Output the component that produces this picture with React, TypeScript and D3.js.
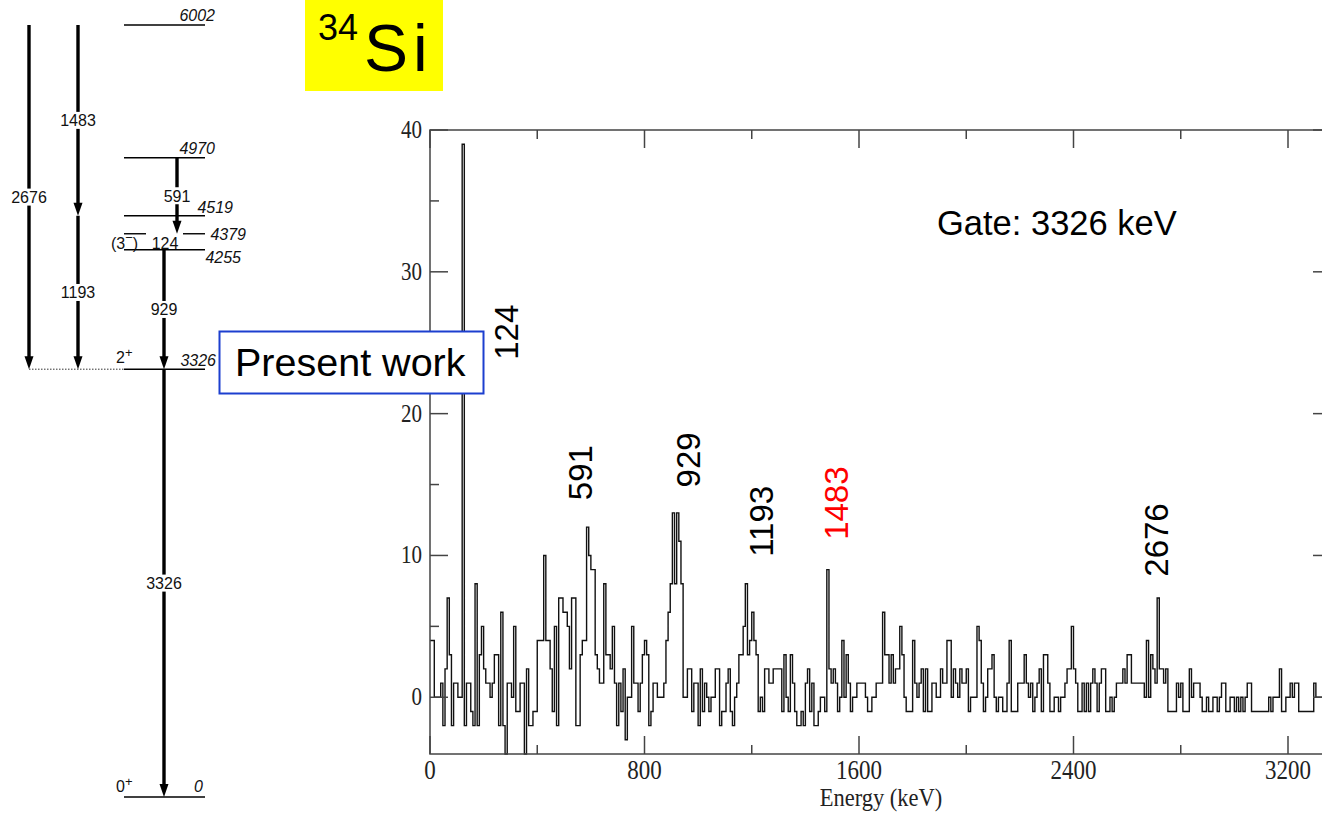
import React from 'react';
import * as d3 from 'd3';

// gated spectrum, 8 keV per bin, background subtracted (so it dips below 0)
const BIN_KEV = 8;

const counts0to832 = [
  4, 4, 0, 0, 0, 1, -2, 2, 7, 3,
  -2, 1, 1, 0, 0, 39, -2, 1, 1, -1,
  -2, 8, -2, 3, 5, 2, 1, 1, 0, 1,
  3, 3, -2, 6, -2, -4, 1, 1, 0, 5,
  -1, -1, 1, 1, -4, 2, -2, -2, -1, -1,
  4, 4, 4, 10, 4, 4, 2, -1, 5, -2,
  7, 7, 6, 6, 5, 2, 7, 7, -2, -2,
  3, 4, 4, 12, 10, 9, 9, 3, 2, 1,
  1, 8, 3, 3, 2, 5, 1, -2, 1, -1,
  2, -3, 0, 0, 5, 1, 1, -1, 1, 3,
  4, 3, -2, -1,
];
const counts832to1664 = [
  1, 1, 0, 0, 0, 1,
  4, 6, 8, 13, 8, 13, 11, 8, 0, 0,
  2, 2, -1, 1, 1, -2, 2, -1, 1, 0,
  -1, 0, 0, 2, 2, -2, -1, -1, 1, 2,
  -1, -2, 0, 1, 3, 3, 5, 8, 3, 4,
  6, 4, 3, -1, 0, -1, 2, 2, 1, 1,
  2, 2, 2, 2, -1, 3, 0, -1, 3, 1,
  -1, -2, -2, -1, -2, 1, 2, -1, 1, -2,
  -2, -1, 0, 0, -1, 9, 2, 1, 2, 1,
  -1, 0, 4, 0, 3, 1, -1, 0, 0, 1,
  1, 1, 1, 0, -1, -1, 0, 0,
];
const counts1664to2496 = [
  1, 1,
  1, 6, 3, 3, 1, 3, 1, 2, 2, 5,
  3, 0, -1, -1, -1, 4, 1, 0, 1, 2,
  -1, 2, -1, -1, 1, 1, 0, 0, 2, 1,
  1, 4, 4, 0, 2, 1, 0, 2, 1, 1,
  2, -1, 0, 0, 0, 5, 4, 1, -1, 0,
  2, 2, 3, 0, -1, 0, 0, -1, -1, 1,
  4, -1, -1, -1, 1, 1, 1, 3, 1, 0,
  1, -1, 0, 1, 2, -1, 3, 3, 1, -1,
  -1, 0, 0, -1, 0, 0, 1, 2, 2, 5,
  2, 1, -1, -1, 1, -1, 1, -1, 1, 2,
  1, -1,
];
const counts2496to3328 = [
  1, 2, 2, -1, -1, 0, -1, 0,
  1, 1, 1, 2, 1, 3, 3, 1, 1, 1,
  1, 1, 1, 0, 4, 0, 3, 2, 1, 7,
  2, 2, 1, 2, -1, -1, -1, -1, 1, 0,
  1, -1, -1, -1, 2, 0, 1, 1, 1, 0,
  -1, -1, 0, -1, -1, 0, 0, -1, 0, 1,
  1, -1, -1, 0, 0, -1, 0, -1, 0, -1,
  0, 1, 1, -1, -1, -1, -1, -1, -1, -1,
  -1, 0, -1, 0, 0, 0, 2, -1, -1, 0,
  0, 1, 0, 1, 1, -1, -1, -1, -1, -1,
  -1, -1, 1, 0, 0, 0,
];

const xTickValues = [0, 800, 1600, 2400, 3200];
const yTickValues = [0, 10, 20, 30, 40];

const peakLabels = ['124', '591', '929', '1193', '1483', '2676'];
const peakColors = ['#000', '#000', '#000', '#000', '#ff0000', '#000'];
// label anchor: keV of the baseline, counts where the text starts
const peakLabelKeV = [328, 604, 1007, 1280, 1560, 2754];
const peakLabelCounts = [23.8, 13.9, 14.8, 9.9, 11.1, 8.5];

// 34Si level scheme (keV)
const levelEnergies = [6002, 4970, 4519, 4379, 4255, 3326, 0];
const gammaLabels = ['2676', '1483', '1193', '591', '124', '929', '3326'];
const gammaFrom = [6002, 6002, 4519, 4970, 4379, 4255, 3326];
const gammaTo = [3326, 4519, 3326, 4379, 4255, 3326, 0];

const SANS = '"Liberation Sans", Arial, Helvetica, sans-serif';
const SERIF = '"Liberation Serif", "Times New Roman", serif';

function LevelScheme() {
  const ly = d3.scaleLinear().domain([0, 6002]).range([797, 25]);
  const x0 = 124, x1 = 205;
  const colOf: Record<string, number> = { '2676': 29, '1483': 78, '1193': 78, '591': 177, '124': 165, '929': 164, '3326': 164 };
  // energy label placement: right edge, baseline offset from the level line
  const eLab: Record<number, [number, number]> = {
    6002: [215, -4], 4970: [215, -4], 4519: [233, -3], 4379: [246, 6], 4255: [241, 13], 3326: [216, -3], 0: [203, -5],
  };
  const fs = 16;
  return (
    <g fontFamily={SANS} fontSize={fs} fill="#111">
      {levelEnergies.map(e => e === 4379 ? (
        <g key={e}>
          <line x1={x0} x2={146} y1={ly(e)} y2={ly(e)} stroke="#000" strokeWidth={1.4} />
          <line x1={183} x2={x1} y1={ly(e)} y2={ly(e)} stroke="#000" strokeWidth={1.4} />
        </g>
      ) : (
        <line key={e} x1={x0} x2={x1} y1={ly(e)} y2={ly(e)} stroke="#000" strokeWidth={1.4} />
      ))}
      {levelEnergies.map(e => (
        <text key={'l' + e} x={eLab[e][0]} y={ly(e) + eLab[e][1]} textAnchor="end" fontStyle="italic">{e}</text>
      ))}
      <line x1={29} x2={x0} y1={ly(3326)} y2={ly(3326)} stroke="#333" strokeWidth={1} strokeDasharray="1.5 1.5" />
      {gammaLabels.map((g, i) => {
        const cx = colOf[g];
        const ya = ly(gammaFrom[i]);
        const yb = ly(gammaTo[i]);
        const ym = (ya + yb) / 2;
        const w = g.length * 9 + 2;
        if (g === '124') {
          return <text key={g} x={cx} y={ym + 7} textAnchor="middle">{g}</text>;
        }
        return (
          <g key={g}>
            <line x1={cx} x2={cx} y1={ya} y2={yb - 11} stroke="#000" strokeWidth={3.4} />
            <path d={`M${cx - 4.5},${yb - 13} L${cx + 4.5},${yb - 13} L${cx},${yb} Z`} fill="#000" />
            <rect x={cx - w / 2} y={ym - 8.5} width={w} height={17} fill="#fff" />
            <text x={cx} y={ym + 6} textAnchor="middle">{g}</text>
          </g>
        );
      })}
      <text x={116} y={ly(3326) - 6}>2<tspan dy={-6} fontSize={13}>+</tspan></text>
      <text x={116} y={ly(0) - 5}>0<tspan dy={-6} fontSize={13}>+</tspan></text>
      <text x={111} y={ly(4379) + 15}>(3<tspan dy={-7} fontSize={13}>−</tspan><tspan dy={7}>)</tspan></text>
    </g>
  );
}

export default function App() {
  const counts = [...counts0to832, ...counts832to1664, ...counts1664to2496, ...counts2496to3328];
  const pts: [number, number][] = counts.map((c, i) => [i * BIN_KEV, c]);
  pts.push([counts.length * BIN_KEV, counts[counts.length - 1]]);

  const x = d3.scaleLinear().domain([0, 3200]).range([430, 1288]);
  const y = d3.scaleLinear().domain([-4, 40]).range([754, 130]);
  const xEnd = x.invert(1331);
  const L = x(0), R = x(xEnd), T = y(40), B = y(-4);

  const step = d3.line<[number, number]>()
    .x(d => x(d[0]))
    .y(d => y(d[1]))
    .curve(d3.curveStepAfter);

  const xMinor = d3.range(400, xEnd, 800);
  const yMinor = d3.range(5, 40, 10);
  const major = 18, minor = 9;
  const axisColor = '#444';

  return (
    <svg width={1322} height={813} style={{ position: 'absolute', left: 0, top: 0, background: '#fff' }}>
      <rect width={1322} height={813} fill="#fff" />
      <LevelScheme />

      {/* title */}
      <rect x={305} y={0} width={138} height={91} fill="#ffff00" />
      <text x={318} y={40} fontFamily={SANS} fontSize={36}>34</text>
      <text x={364} y={71} fontFamily={SANS} fontSize={66} letterSpacing={5}>Si</text>

      {/* spectrum */}
      <path d={step(pts) ?? ''} fill="none" stroke="#111" strokeWidth={1.4} />
      <rect x={L} y={T} width={R - L} height={B - T} fill="none" stroke={axisColor} strokeWidth={1.5} />

      {xTickValues.map(v => (
        <g key={'xt' + v} stroke={axisColor} strokeWidth={1.5}>
          <line x1={x(v)} x2={x(v)} y1={B} y2={B - major} />
          <line x1={x(v)} x2={x(v)} y1={T} y2={T + major} />
        </g>
      ))}
      {xMinor.map(v => (
        <g key={'xm' + v} stroke={axisColor} strokeWidth={1.5}>
          <line x1={x(v)} x2={x(v)} y1={B} y2={B - minor} />
          <line x1={x(v)} x2={x(v)} y1={T} y2={T + minor} />
        </g>
      ))}
      {yTickValues.map(v => (
        <g key={'yt' + v} stroke={axisColor} strokeWidth={1.5}>
          <line x1={L} x2={L + major} y1={y(v)} y2={y(v)} />
          <line x1={R} x2={R - major} y1={y(v)} y2={y(v)} />
        </g>
      ))}
      {yMinor.map(v => (
        <g key={'ym' + v} stroke={axisColor} strokeWidth={1.5}>
          <line x1={L} x2={L + minor} y1={y(v)} y2={y(v)} />
          <line x1={R} x2={R - minor} y1={y(v)} y2={y(v)} />
        </g>
      ))}

      <g fontFamily={SERIF} fill="#222">
        {xTickValues.map(v => (
          <text key={'xl' + v} transform={`translate(${x(v)},${779}) scale(1,1.2)`} textAnchor="middle" fontSize={23}>{v}</text>
        ))}
        {yTickValues.map(v => (
          <text key={'yl' + v} transform={`translate(${L - 8},${y(v) + 8}) scale(1,1.2)`} textAnchor="end" fontSize={21}>{v}</text>
        ))}
        <text transform={`translate(${(L + 1322) / 2 + 5},${806}) scale(1,1.15)`} textAnchor="middle" fontSize={22.5}>Energy (keV)</text>
      </g>

      <g fontFamily={SANS} fontSize={33}>
        {peakLabels.map((t, i) => (
          <text key={t} transform={`translate(${x(peakLabelKeV[i])},${y(peakLabelCounts[i])}) rotate(-90)`} fill={peakColors[i]}>{t}</text>
        ))}
        <text x={937} y={235} fontSize={34.5}>Gate: 3326 keV</text>
      </g>

      {/* callout */}
      <rect x={219.5} y={331.5} width={264} height={62} fill="#fff" stroke="#1c3fcf" strokeWidth={2} />
      <text x={235} y={376} fontFamily={SANS} fontSize={39.5}>Present work</text>
    </svg>
  );
}
